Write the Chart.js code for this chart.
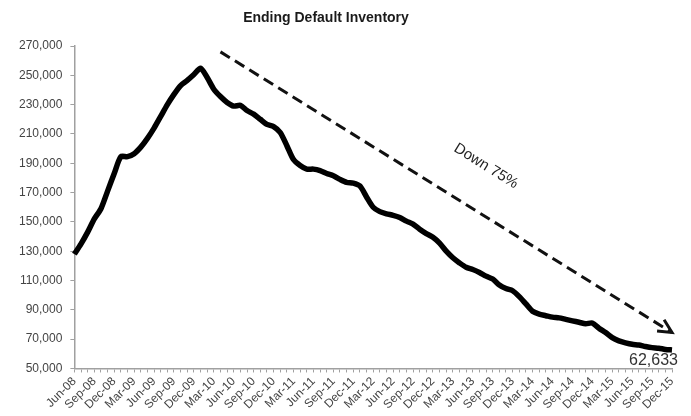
<!DOCTYPE html>
<html lang="en">
<head>
<meta charset="UTF-8">
<title>Ending Default Inventory</title>
<script src="https://cdn.jsdelivr.net/npm/chart.js"></script>
<style>
  body { margin: 0; background: #fff; }
  #wrap { width: 691px; height: 416px; }
</style>
</head>
<body>
<div id="wrap"><canvas id="invChart" width="691" height="416"></canvas></div>
<script>
// monthly categories, Jun-08 .. Dec-15
const months = [
  'Jun-08','Jul-08','Aug-08','Sep-08','Oct-08','Nov-08','Dec-08',
  'Jan-09','Feb-09','Mar-09','Apr-09','May-09','Jun-09','Jul-09','Aug-09','Sep-09','Oct-09','Nov-09','Dec-09',
  'Jan-10','Feb-10','Mar-10','Apr-10','May-10','Jun-10','Jul-10','Aug-10','Sep-10','Oct-10','Nov-10','Dec-10',
  'Jan-11','Feb-11','Mar-11','Apr-11','May-11','Jun-11','Jul-11','Aug-11','Sep-11','Oct-11','Nov-11','Dec-11',
  'Jan-12','Feb-12','Mar-12','Apr-12','May-12','Jun-12','Jul-12','Aug-12','Sep-12','Oct-12','Nov-12','Dec-12',
  'Jan-13','Feb-13','Mar-13','Apr-13','May-13','Jun-13','Jul-13','Aug-13','Sep-13','Oct-13','Nov-13','Dec-13',
  'Jan-14','Feb-14','Mar-14','Apr-14','May-14','Jun-14','Jul-14','Aug-14','Sep-14','Oct-14','Nov-14','Dec-14',
  'Jan-15','Feb-15','Mar-15','Apr-15','May-15','Jun-15','Jul-15','Aug-15','Sep-15','Oct-15','Nov-15','Dec-15'
];

// ending default inventory
const inventory = [
  128000, 135000, 143000, 152000, 159000, 171000, 183000,
  194500, 194500, 196500, 201000, 207000, 214000, 222000, 230000, 237000, 243000, 246500, 250500,
  254800, 248500, 240500, 235500, 231500, 229000, 229500, 226000, 223500, 220000, 216500, 215000,
  211000, 202000, 192500, 188500, 186000, 186000, 185000, 183000, 181500, 179000, 177000, 176500,
  174500, 167000, 160000, 157000, 155500, 154500, 153000, 150500, 148500, 145000, 142000, 139500,
  135500, 130000, 125500, 122000, 119000, 117500, 115500, 113000, 111000, 107000, 104500, 103000,
  99000, 94000, 89000, 87000, 86000, 85000, 84500, 83500, 82500, 81500, 80500, 81000,
  77500, 74500, 71000, 68800, 67500, 66500, 66000, 65000, 64200, 63800, 63000, 62633
];

// labels shown on the x axis (quarterly)
const xTickLabels = [
  'Jun-08','Sep-08','Dec-08','Mar-09','Jun-09','Sep-09','Dec-09','Mar-10','Jun-10','Sep-10','Dec-10',
  'Mar-11','Jun-11','Sep-11','Dec-11','Mar-12','Jun-12','Sep-12','Dec-12','Mar-13','Jun-13','Sep-13',
  'Dec-13','Mar-14','Jun-14','Sep-14','Dec-14','Mar-15','Jun-15','Sep-15','Dec-15'
];

const yMin = 50000;
const yMax = 270000;
const yStep = 20000;

const chartTitle = 'Ending Default Inventory';
const endLabel = '62,633';

// trend arrow, in data units
const arrowFrom = ['Apr-10', 266000];
const arrowTo = ['Dec-15', 74500];
const arrowText = 'Down 75%';
const arrowTextAt = ['Aug-13', 188000];

const axisGrey = '#a0a0a0';
const textGrey = '#444';
const font = 'Liberation Sans, Arial, sans-serif';

const annotations = {
  id: 'annotations',
  afterDraw(chart) {
    const { ctx, scales: { x, y } } = chart;
    ctx.save();

    // title
    ctx.fillStyle = '#1a1a1a';
    ctx.font = 'bold 14px ' + font;
    ctx.textAlign = 'center';
    ctx.textBaseline = 'middle';
    ctx.fillText(chartTitle, 326, 18);

    // dashed arrow
    const x1 = x.getPixelForValue(months.indexOf(arrowFrom[0]));
    const y1 = y.getPixelForValue(arrowFrom[1]);
    const x2 = x.getPixelForValue(months.indexOf(arrowTo[0]));
    const y2 = y.getPixelForValue(arrowTo[1]);
    const ang = Math.atan2(y2 - y1, x2 - x1);
    ctx.strokeStyle = '#111';
    ctx.lineWidth = 3;
    ctx.setLineDash([11, 6]);
    ctx.beginPath();
    ctx.moveTo(x1, y1);
    ctx.lineTo(x2, y2);
    ctx.stroke();
    ctx.setLineDash([]);
    const head = 15, spread = 0.46;
    ctx.beginPath();
    ctx.moveTo(x2 - head * Math.cos(ang - spread), y2 - head * Math.sin(ang - spread));
    ctx.lineTo(x2, y2);
    ctx.lineTo(x2 - head * Math.cos(ang + spread), y2 - head * Math.sin(ang + spread));
    ctx.stroke();

    // arrow text
    const tx = x.getPixelForValue(months.indexOf(arrowTextAt[0]));
    const ty = y.getPixelForValue(arrowTextAt[1]);
    ctx.translate(tx, ty);
    ctx.rotate(ang);
    ctx.fillStyle = '#222';
    ctx.font = '15px ' + font;
    ctx.fillText(arrowText, 0, 0);
    ctx.setTransform(1, 0, 0, 1, 0, 0);

    // last value
    const lx = x.getPixelForValue(inventory.length - 1);
    const ly = y.getPixelForValue(inventory[inventory.length - 1]);
    ctx.fillStyle = '#333';
    ctx.font = '16px ' + font;
    ctx.textAlign = 'right';
    ctx.textBaseline = 'alphabetic';
    ctx.fillText(endLabel, lx + 6, ly + 15);
    ctx.restore();
  }
};

new Chart(document.getElementById('invChart'), {
  type: 'line',
  data: {
    labels: months,
    datasets: [{
      data: inventory,
      borderColor: '#000',
      borderWidth: 5.5,
      pointRadius: 0,
      tension: 0.25,
      fill: false
    }]
  },
  options: {
    responsive: false,
    animation: false,
    layout: { padding: { top: 46, right: 19, left: 11, bottom: 2 } },
    plugins: {
      legend: { display: false },
      title: { display: false },
      tooltip: { enabled: false }
    },
    scales: {
      x: {
        grid: { display: true, drawOnChartArea: false, tickLength: 4, color: axisGrey },
        border: { color: axisGrey, width: 1.5 },
        ticks: {
          autoSkip: false,
          minRotation: 45,
          maxRotation: 45,
          padding: 2,
          color: textGrey,
          font: { family: font, size: 12 },
          callback(value) {
            const lab = this.getLabelForValue(value);
            return xTickLabels.includes(lab) ? lab : '';
          }
        }
      },
      y: {
        min: yMin,
        max: yMax,
        grid: { display: true, drawOnChartArea: false, tickLength: 4, color: axisGrey },
        border: { color: axisGrey, width: 1.5 },
        ticks: {
          stepSize: yStep,
          padding: 8,
          color: textGrey,
          font: { family: font, size: 12 },
          callback: v => v.toLocaleString('en-US')
        }
      }
    }
  },
  plugins: [annotations]
});
</script>
</body>
</html>
